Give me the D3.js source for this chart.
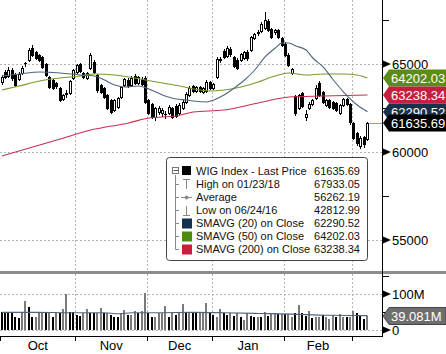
<!DOCTYPE html>
<html>
<head>
<meta charset="utf-8">
<script src="https://cdn.jsdelivr.net/npm/d3@7"></script>
<style>
body { margin: 0; background: #fff; }
svg { display: block; font-family: "Liberation Sans", Arial, sans-serif; }
</style>
</head>
<body>
<div id="chart"></div>
<script>
// daily candles, Oct 2017 - early Mar 2018 (index = trading day)
var opens = [63977,64545,64318,64659,64375,64148,64489,65057,65227,65909,
  65682,65511,65398,65000,64261,64091,63920,63636,63011,63295,
  63352,64205,64545,65000,64489,64205,64773,65114,64375,63807,
  63636,63239,62955,62386,62557,63125,63807,64091,63807,64318,
  63920,64148,64205,62955,62727,61989,62273,62216,62159,62216,
  62500,62614,62216,62500,62841,63239,63750,63466,63693,63409,
  63466,63977,63636,64261,65227,65739,65455,65852,65398,65227,
  65227,65341,65682,65795,66477,66761,66875,67045,67443,66989,
  66818,66932,66477,66136,65511,64489,63182,62500,63352,61989,
  62500,62727,63068,63920,63409,62670,62955,62841,62784,62216,
  62670,63011,62727,61648,61080,60341,60852,60739];
var highs = [64375,64659,64830,64773,64489,64545,64886,65114,65909,66080,
  65739,65568,65455,65057,64318,64148,63977,63693,63295,63523,
  64091,64716,65000,65057,64545,64545,65625,65227,64432,63864,
  63693,63295,63011,63011,63125,63750,64205,64205,64318,64432,
  64318,64261,64318,63011,62784,62557,62614,62500,62330,62670,
  62557,62727,62784,62955,63409,63750,63807,63750,63750,63693,
  64091,64034,63920,65398,65398,65852,66023,65966,65455,65341,
  65625,65739,65795,66591,66761,66932,67386,67933.05,67557,67045,
  66989,66989,66534,66250,65625,64773,63239,63295,63409,62386,
  62841,63011,63807,64034,63466,63011,63011,62898,62841,62727,
  63068,63068,62784,61705,61136,60909,60909,61705];
var lows = [63864,64205,64261,64091,63750,64091,64432,64886,65170,65455,
  65284,65170,64773,64318,63636,63580,63636,62898,62955,63125,
  63295,64148,64489,64545,64205,64148,64716,64489,63409,63352,
  63068,62443,62216,62330,62500,63068,63750,63693,63750,63864,
  63864,63807,62784,62159,61932,61818,62159,62045,61932,62159,
  61932,61989,62159,62443,62784,63182,63409,63409,63409,63352,
  63409,63580,63580,64205,65114,65341,65398,65455,64830,64716,
  65170,65284,65227,65739,66420,66648,66818,66989,66875,66477,
  66705,66477,66023,65455,64886,64432,62102,62443,62557,61818,
  62443,62670,63011,63182,62784,62614,62500,62443,62330,62159,
  62614,62670,61591,60739,60398,60227,60284,60682];
var closes = [64261,64261,64659,64205,63807,64432,64773,65040,65795,65511,
  65341,65227,64830,64375,63693,63636,63750,62955,63239,63352,
  64034,64659,64943,64602,64261,64489,65511,64545,63523,63409,
  63125,62500,62273,62955,63068,63693,64148,63750,64205,63920,
  64261,63864,62841,62216,61989,62500,62500,62386,62140,62557,
  61989,62045,62670,62841,63295,63636,63466,63693,63466,63636,
  63977,63636,63864,65284,65284,65398,65909,65568,64886,64773,
  65568,65682,65341,66534,66705,66818,67273,67500,66932,66534,
  66932,66534,66080,65511,64943,64716,62216,63239,62614,62159,
  62727,62955,63636,63239,62841,62955,62557,62500,62386,62670,
  63011,62727,61705,60795,60511,60795,60455,61635.69];

// volume in millions, and bar shade (1 = black, 0 = grey)
var volumes = [49,49,49,46,37,33,50,80,64,36,
  37,46,46,46,49,37,51,46,58,100,
  51,49,42,39,46,58,46,46,46,61,
  48,46,42,37,35,46,55,42,42,53,
  46,53,103,46,37,37,48,48,67,37,
  48,42,46,72,46,48,49,46,46,46,
  76,48,42,37,57,46,42,46,39,48,
  35,28,48,39,37,35,35,51,39,46,
  46,44,44,44,44,35,46,69,46,39,
  53,32,35,35,42,37,30,42,35,44,
  35,37,37,53,46,42,30,39.081];
var volShade = [1,1,1,1,1,1,0,0,1,1, 0,0,0,1,0,1,0,1,0,0,
  1,1,1,1,0,0,1,1,0,0, 1,0,1,1,1,0,0,1,0,0,
  1,0,0,1,1,0,0,0,0,1, 0,1,0,0,1,0,1,1,0,0,
  0,1,1,0,0,1,1,0,1,0, 1,0,0,1,1,0,1,0,1,0,
  0,1,0,1,0,0,1,0,1,1, 0,1,0,0,1,0,0,0,1,0,
  0,1,0,0,1,1,1,0];
var volAvgIdx = [0,10,20,30,34,38,45,56,65,75,85,95,107];
var volAvgVal = [49,49,48,48,45,48,48,49,48,46,44,41,40];

// moving averages
var sma20Idx = [0,5,11,17,23,27,30,33,36,40,43,47,51,54,56,60,62,65,68,71,74,77,80,82,84,86,89,91,94,97,100,104,107];
var sma20Val = [64318,64432,64545,64489,64375,64318,64091,63807,63693,63750,63580,63239,63011,62955,62898,62841,62955,63239,63636,64091,64659,65398,65909,66193,66193,66023,65795,65341,64830,64091,63409,62670,62290.52];
var sma50Idx = [0,5,11,17,23,27,33,37,42,47,52,56,61,65,70,75,79,84,89,94,100,104,107];
var sma50Val = [63523,63750,64034,64205,64318,64432,64375,64261,64091,63920,63750,63580,63466,63523,63693,63977,64261,64489,64375,64432,64432,64375,64202.03];
var sma200Idx = [0,9,19,26,29,37,43,51,56,65,75,84,94,107];
var sma200Val = [59773,60284,60852,61250,61364,61648,61932,62045,62273,62386,62784,63125,63182,63238.34];

var months = ["Oct","Nov","Dec","Jan","Feb"];
var monthStart = [0,22,43,62,83,103];
var priceTicks = [55000,60000,65000];
var priceMinor = [57500,62500,67500];
var volTicks = [0,100];
var volTickLabels = ["0","100M"];
var volMinor = [50,150];

var legendLabels = ["WIG Index - Last Price","High on 01/23/18","Average","Low on 06/24/16","SMAVG (20) on Close","SMAVG (50) on Close","SMAVG (200) on Close"];
var legendValues = ["61635.69","67933.05","56262.19","42812.99","62290.52","64202.03","63238.34"];

(function wig() {
  var width = 446, height = 354, axisX = 382.5;
  var svg = d3.select("#chart").append("svg")
      .attr("width", width)
      .attr("height", height);

  var x = d3.scaleLinear().domain([0, 107]).range([2, 367.5]);
  var y = d3.scaleLinear().domain([55000, 65000]).range([240, 64]);
  var yv = d3.scaleLinear().domain([0, 100]).range([330, 294]);
  var px = function(v) { return Math.round(v) + 0.5; };

  var defs = svg.append("defs");
  defs.append("clipPath").attr("id", "pclip")
    .append("rect").attr("x", 0).attr("y", 0).attr("width", axisX).attr("height", 270);

  // grid
  var grid = svg.append("g").attr("stroke", "#b4b4b4").attr("stroke-dasharray", "2,2");
  priceTicks.forEach(function(t) {
    grid.append("line").attr("x1", 0).attr("x2", axisX).attr("y1", px(y(t))).attr("y2", px(y(t)));
  });
  volTicks.forEach(function(t) {
    grid.append("line").attr("x1", 0).attr("x2", axisX).attr("y1", px(yv(t))).attr("y2", px(yv(t)));
  });
  monthStart.slice(1).forEach(function(s) {
    var gx = px(x(s - 0.5));
    grid.append("line").attr("x1", gx).attr("x2", gx).attr("y1", 0).attr("y2", 270);
    grid.append("line").attr("x1", gx).attr("x2", gx).attr("y1", 274).attr("y2", 330);
  });

  // candles
  var price = svg.append("g").attr("clip-path", "url(#pclip)");
  var candles = price.selectAll(".c").data(closes).enter().append("g");
  candles.append("line")
      .attr("x1", function(d, i) { return Math.floor(x(i)) + 0.5; })
      .attr("x2", function(d, i) { return Math.floor(x(i)) + 0.5; })
      .attr("y1", function(d, i) { return Math.round(y(highs[i])); })
      .attr("y2", function(d, i) { return Math.round(y(lows[i])) + 1; })
      .attr("stroke", "#000");
  candles.append("rect")
      .attr("x", function(d, i) { return Math.floor(x(i)) - 0.5; })
      .attr("y", function(d, i) { return Math.round(y(Math.max(opens[i], d))) + 0.5; })
      .attr("width", 2)
      .attr("height", function(d, i) {
        return Math.max(0.1, Math.round(y(Math.min(opens[i], d))) - Math.round(y(Math.max(opens[i], d))));
      })
      .attr("fill", function(d, i) { return d >= opens[i] ? "#fff" : "#000"; })
      .attr("stroke", "#000");

  // moving averages
  function avgLine(idx, val, color) {
    var line = d3.line()
        .x(function(d, k) { return x(idx[k]); })
        .y(function(d) { return y(d); })
        .curve(d3.curveMonotoneX);
    price.append("path").attr("d", line(val))
        .attr("fill", "none").attr("stroke", color).attr("stroke-width", 1.1);
  }
  avgLine(sma200Idx, sma200Val, "#c4314f");
  avgLine(sma50Idx, sma50Val, "#779a2c");
  avgLine(sma20Idx, sma20Val, "#50657c");

  // last price marker
  svg.append("line").attr("x1", x(107) + 2).attr("x2", axisX)
      .attr("y1", px(y(closes[107]))).attr("y2", px(y(closes[107])))
      .attr("stroke", "#e8892c");

  // legend
  var lg = svg.append("g");
  lg.append("rect").attr("x", 166.5).attr("y", 157.5).attr("width", 201).attr("height", 103)
      .attr("rx", 3).attr("fill", "#fff").attr("stroke", "#444");
  var rowY = d3.range(legendLabels.length).map(function(k) { return 171 + k * 13; });
  lg.append("line").attr("x1", 175.5).attr("x2", 175.5).attr("y1", 175).attr("y2", rowY[6] + 0.5)
      .attr("stroke", "#888");
  lg.append("rect").attr("x", 172.5).attr("y", 167.5).attr("width", 6).attr("height", 6)
      .attr("fill", "#fff").attr("stroke", "#777");
  lg.append("line").attr("x1", 173.5).attr("x2", 178).attr("y1", 170.5).attr("y2", 170.5).attr("stroke", "#555");
  lg.append("rect").attr("x", 182).attr("y", 166).attr("width", 9).attr("height", 9).attr("fill", "#000");
  rowY.slice(1).forEach(function(ry) {
    lg.append("line").attr("x1", 175.5).attr("x2", 179).attr("y1", ry + 0.5).attr("y2", ry + 0.5).attr("stroke", "#888");
  });
  var ic = lg.append("g").attr("stroke", "#888").attr("fill", "none");
  ic.append("path").attr("d", "M183," + (rowY[1] - 4.5) + "H190M186.5," + (rowY[1] - 4.5) + "V" + (rowY[1] + 5));
  ic.append("path").attr("d", "M181," + (rowY[2] + 0.5) + "H192");
  ic.append("circle").attr("cx", 186.5).attr("cy", rowY[2] + 0.5).attr("r", 1.5).attr("fill", "#888");
  ic.append("path").attr("d", "M183," + (rowY[3] + 5.5) + "H190M186.5," + (rowY[3] + 5.5) + "V" + (rowY[3] - 4));
  var swatch = ["#13304f", "#4d8a10", "#c81f3c"];
  swatch.forEach(function(c, k) {
    lg.append("rect").attr("x", 182).attr("y", rowY[4 + k] - 4.5).attr("width", 10).attr("height", 10).attr("fill", c);
  });
  lg.selectAll(".lt").data(legendLabels).enter().append("text")
      .attr("x", 196).attr("y", function(d, k) { return rowY[k] + 4; })
      .attr("font-size", 11).attr("fill", "#111").text(function(d) { return d; });
  lg.selectAll(".lv").data(legendValues).enter().append("text")
      .attr("x", 360).attr("y", function(d, k) { return rowY[k] + 4; })
      .attr("text-anchor", "end").attr("font-size", 11).attr("fill", "#111").text(function(d) { return d; });

  // volume
  var vol = svg.append("g");
  vol.selectAll("rect").data(volumes).enter().append("rect")
      .attr("x", function(d, i) { return Math.floor(x(i)) - 1; })
      .attr("y", function(d) { return Math.round(yv(d)); })
      .attr("width", 2)
      .attr("height", function(d) { return 330 - Math.round(yv(d)); })
      .attr("fill", function(d, i) { return volShade[i] ? "#000" : "#7a7a7a"; });
  var vline = d3.line()
      .x(function(d, k) { return x(volAvgIdx[k]); })
      .y(function(d) { return yv(d); })
      .curve(d3.curveMonotoneX);
  vol.append("path").attr("d", vline(volAvgVal)).attr("fill", "none")
      .attr("stroke", "#50657c").attr("stroke-width", 1.1);

  // separator
  svg.append("rect").attr("x", 0).attr("y", 271).attr("width", width).attr("height", 3).attr("fill", "#8c8c8c");

  // axes
  svg.append("line").attr("x1", axisX).attr("x2", axisX).attr("y1", 0).attr("y2", 337).attr("stroke", "#000");
  svg.append("line").attr("x1", 0).attr("x2", axisX).attr("y1", 336.5).attr("y2", 336.5).attr("stroke", "#000");
  monthStart.forEach(function(s) {
    var gx = px(x(s - 0.5));
    svg.append("line").attr("x1", gx).attr("x2", gx).attr("y1", 336).attr("y2", 341).attr("stroke", "#000");
  });
  svg.selectAll(".ml").data(months).enter().append("text")
      .attr("x", function(d, k) { return (x(monthStart[k] - 0.5) + x(monthStart[k + 1] - 0.5)) / 2; })
      .attr("y", 350).attr("text-anchor", "middle").attr("font-size", 13).attr("fill", "#000")
      .text(function(d) { return d; });

  function majorTick(yy, label) {
    svg.append("path").attr("d", "M383," + (yy - 3.5) + "L391," + yy + "L383," + (yy + 3.5) + "Z").attr("fill", "#000");
    svg.append("text").attr("x", 392).attr("y", yy + 5).attr("font-size", 13).attr("fill", "#000").text(label);
  }
  function minorTick(yy) {
    svg.append("line").attr("x1", 383).attr("x2", 389).attr("y1", px(yy)).attr("y2", px(yy)).attr("stroke", "#000");
  }
  priceMinor.forEach(function(t) { minorTick(y(t)); });
  priceTicks.forEach(function(t) { majorTick(y(t), d3.format("d")(t)); });
  volMinor.forEach(function(t) { minorTick(yv(t)); });
  volTicks.forEach(function(t, k) { majorTick(yv(t), volTickLabels[k]); });

  // value tags on the right
  function tag(value, text, fill, stroke) {
    var yc = Math.round(value);
    svg.append("path")
        .attr("d", "M383," + yc + "L389," + (yc - 8.5) + "L446," + (yc - 8.5) + "L446," + (yc + 8.5) + "L389," + (yc + 8.5) + "Z")
        .attr("fill", fill).attr("stroke", stroke || "none");
    svg.append("text").attr("x", 391).attr("y", yc + 5).attr("font-size", 13).attr("fill", "#fff").text(text);
  }
  tag(y(sma50Val[sma50Val.length - 1]), legendValues[5], "#5b8c16");
  tag(y(sma200Val[sma200Val.length - 1]), legendValues[6], "#c41f40");
  tag(y(sma20Val[sma20Val.length - 1]), legendValues[4], "#1b3149");
  tag(y(closes[107]), legendValues[0], "#000");
  tag(yv(volumes[107]), d3.format(".3f")(volumes[107]) + "M", "#6e6e6e", "#444");
})();
</script>
</body>
</html>
